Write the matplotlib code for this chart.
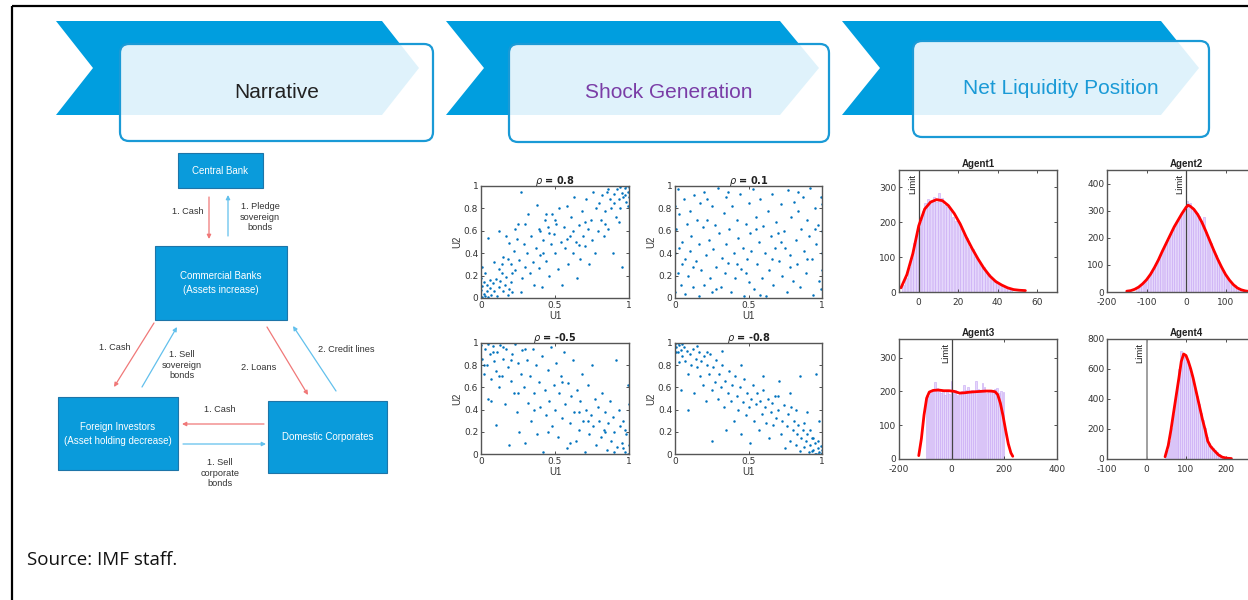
import numpy as np
import matplotlib
matplotlib.use("Agg")
import matplotlib.pyplot as plt
from matplotlib.patches import Polygon, Rectangle, FancyBboxPatch

plt.rcParams["axes.unicode_minus"] = False

# ---- data ----
stage_titles = ["Narrative", "Shock Generation", "Net Liquidity Position"]
stage_colors = ["#222222", "#7a3da6", "#1a9ad6"]

rho_titles = ["0.8", "0.1", "-0.5", "-0.8"]

s08 = [(0.01,0.01),(0.02,0.04),(0.00,0.07),(0.03,0.02),(0.01,0.11),(0.04,0.06),(0.05,0.01),(0.02,0.14),
       (0.06,0.09),(0.07,0.03),(0.00,0.18),(0.03,0.22),(0.01,0.28),(0.08,0.13),(0.09,0.06),(0.10,0.17),
       (0.11,0.02),(0.12,0.10),(0.13,0.15),(0.14,0.22),(0.15,0.06),(0.16,0.12),(0.17,0.19),(0.18,0.03),
       (0.19,0.08),(0.20,0.14),(0.21,0.05),(0.06,0.16),(0.04,0.12),(0.12,0.26),
       (0.05,0.54),(0.12,0.60),(0.15,0.37),(0.17,0.55),(0.19,0.49),(0.20,0.30),(0.22,0.42),(0.23,0.25),
       (0.24,0.53),(0.25,0.66),(0.26,0.34),(0.27,0.95),(0.28,0.18),(0.29,0.48),(0.30,0.28),(0.31,0.40),
       (0.32,0.75),(0.33,0.22),(0.34,0.55),(0.35,0.32),(0.36,0.12),(0.14,0.30),(0.21,0.22),(0.18,0.35),
       (0.27,0.05),(0.09,0.32),(0.23,0.62),(0.30,0.66),
       (0.37,0.45),(0.38,0.83),(0.39,0.27),(0.40,0.38),(0.40,0.60),(0.41,0.10),(0.42,0.52),(0.43,0.70),
       (0.44,0.33),(0.45,0.63),(0.46,0.20),(0.47,0.48),(0.48,0.75),(0.49,0.57),(0.50,0.40),(0.51,0.66),
       (0.52,0.26),(0.53,0.80),(0.54,0.50),(0.55,0.12),(0.42,0.40),(0.46,0.58),(0.50,0.70),(0.39,0.62),
       (0.44,0.75),
       (0.56,0.63),(0.57,0.45),(0.58,0.82),(0.59,0.30),(0.60,0.55),(0.61,0.72),(0.62,0.40),(0.63,0.90),
       (0.64,0.50),(0.65,0.18),(0.66,0.65),(0.67,0.35),(0.68,0.78),(0.69,0.55),(0.70,0.46),(0.71,0.88),
       (0.72,0.62),(0.73,0.30),(0.74,0.70),(0.75,0.52),(0.76,0.95),(0.77,0.40),(0.78,0.80),(0.79,0.60),
       (0.62,0.60),(0.70,0.68),(0.66,0.47),(0.58,0.53),
       (0.80,0.85),(0.81,0.70),(0.82,0.92),(0.83,0.55),(0.84,0.78),(0.85,0.95),(0.86,0.62),(0.87,0.88),
       (0.88,0.80),(0.89,0.40),(0.90,0.93),(0.91,0.72),(0.92,0.97),(0.93,0.88),(0.94,0.80),(0.95,0.28),
       (0.95,0.94),(0.96,0.90),(0.97,0.98),(0.98,0.86),(0.99,0.95),(1.00,0.99),(0.99,0.82),(0.97,0.92),
       (0.94,0.99),(0.90,0.85),(0.86,0.97),(0.93,0.68),(1.00,0.90),(0.98,1.00),(0.84,0.66)]

s01 = [(0.00,0.82),(0.00,0.40),(0.00,0.05),(0.01,0.62),(0.02,0.97),(0.02,0.22),(0.03,0.75),(0.04,0.12),
       (0.05,0.50),(0.05,0.30),(0.06,0.88),(0.07,0.04),(0.08,0.66),(0.09,0.20),(0.10,0.42),(0.10,0.78),
       (0.11,0.55),(0.12,0.10),(0.13,0.92),(0.14,0.33),(0.15,0.70),(0.16,0.02),(0.16,0.48),(0.17,0.85),
       (0.18,0.25),(0.19,0.63),(0.20,0.12),(0.20,0.95),(0.21,0.38),(0.22,0.70),(0.23,0.52),(0.24,0.18),
       (0.25,0.82),(0.25,0.05),(0.26,0.44),(0.27,0.65),(0.28,0.28),(0.29,0.98),(0.30,0.58),(0.31,0.10),
       (0.32,0.36),(0.33,0.76),(0.34,0.22),(0.35,0.48),(0.35,0.90),(0.36,0.31),(0.37,0.62),(0.38,0.05),
       (0.39,0.82),(0.40,0.40),(0.41,0.18),(0.42,0.70),(0.43,0.54),(0.44,0.93),(0.45,0.26),(0.46,0.45),
       (0.47,0.02),(0.48,0.66),(0.49,0.35),(0.50,0.85),(0.50,0.14),(0.51,0.58),(0.52,0.42),(0.53,0.97),
       (0.54,0.08),(0.55,0.72),(0.56,0.30),(0.57,0.50),(0.58,0.88),(0.59,0.18),(0.60,0.64),(0.61,0.40),
       (0.62,0.02),(0.63,0.78),(0.64,0.25),(0.65,0.55),(0.66,0.93),(0.67,0.12),(0.68,0.45),(0.69,0.68),
       (0.70,0.58),(0.71,0.33),(0.72,0.84),(0.73,0.20),(0.74,0.60),(0.75,0.45),(0.76,0.05),(0.77,0.96),
       (0.78,0.38),(0.79,0.72),(0.80,0.15),(0.81,0.86),(0.82,0.52),(0.83,0.30),(0.84,0.78),(0.85,0.10),
       (0.86,0.62),(0.87,0.90),(0.88,0.42),(0.89,0.22),(0.90,0.70),(0.91,0.55),(0.92,0.98),(0.93,0.35),
       (0.94,0.03),(0.95,0.80),(0.96,0.48),(0.97,0.65),(0.98,0.15),(0.99,0.90),(1.00,0.40),(1.00,0.84),
       (1.00,0.25),(1.00,0.60),(0.99,0.08),(0.07,0.35),(0.12,0.28),(0.22,0.88),(0.28,0.08),(0.36,0.95),
       (0.42,0.30),(0.48,0.22),(0.55,0.62),(0.58,0.03),(0.66,0.35),(0.72,0.50),(0.78,0.28),(0.84,0.95),
       (0.90,0.35),(0.95,0.62),(0.03,0.45)]

sm05 = [(0.00,0.98),(0.01,0.86),(0.02,0.72),(0.03,0.95),(0.04,0.80),(0.05,0.99),(0.05,0.50),(0.06,0.90),
        (0.07,0.68),(0.08,0.97),(0.09,0.84),(0.10,0.26),(0.10,0.75),(0.11,0.92),(0.12,0.60),(0.13,0.98),
        (0.14,0.70),(0.15,0.86),(0.16,0.45),(0.17,0.95),(0.18,0.78),(0.19,0.08),(0.20,0.66),(0.21,0.90),
        (0.22,0.55),(0.23,0.99),(0.24,0.38),(0.25,0.82),(0.26,0.20),(0.27,0.72),(0.28,0.94),(0.29,0.60),
        (0.30,0.10),(0.31,0.85),(0.32,0.46),(0.33,0.70),(0.34,0.30),(0.35,0.95),(0.36,0.55),(0.37,0.80),
        (0.38,0.18),(0.39,0.65),(0.40,0.42),(0.41,0.88),(0.42,0.02),(0.43,0.58),(0.44,0.35),(0.45,0.76),
        (0.46,0.48),(0.47,0.96),(0.48,0.25),(0.49,0.62),(0.50,0.40),(0.51,0.82),(0.52,0.15),(0.53,0.55),
        (0.54,0.70),(0.55,0.32),(0.56,0.92),(0.57,0.45),(0.58,0.05),(0.59,0.64),(0.60,0.28),(0.61,0.52),
        (0.62,0.85),(0.63,0.38),(0.64,0.12),(0.65,0.58),(0.66,0.22),(0.67,0.48),(0.68,0.72),(0.69,0.30),
        (0.70,0.02),(0.71,0.40),(0.72,0.62),(0.73,0.18),(0.74,0.35),(0.75,0.80),(0.76,0.25),(0.77,0.50),
        (0.78,0.08),(0.79,0.42),(0.80,0.30),(0.81,0.15),(0.82,0.55),(0.83,0.22),(0.84,0.38),(0.85,0.04),
        (0.86,0.28),(0.87,0.48),(0.88,0.12),(0.89,0.33),(0.90,0.20),(0.91,0.85),(0.92,0.06),(0.93,0.40),
        (0.94,0.25),(0.95,0.10),(0.96,0.30),(0.97,0.02),(0.98,0.18),(0.99,0.62),(1.00,0.08),(1.00,0.45),
        (0.99,0.00),(0.97,0.22),(0.96,0.05),(0.02,0.80),(0.08,0.92),(0.15,0.96),(0.12,0.70),(0.20,0.85),
        (0.30,0.95),(0.25,0.55),(0.45,0.20),(0.60,0.10),(0.72,0.30),(0.84,0.20),(0.90,0.02),(0.07,0.48),
        (0.55,0.65),(0.36,0.40),(0.66,0.38)]

sm08 = [(0.00,0.99),(0.01,0.96),(0.02,1.00),(0.02,0.92),(0.03,0.98),(0.04,0.94),(0.05,0.88),(0.05,0.99),
        (0.06,0.96),(0.07,0.84),(0.08,0.93),(0.09,0.72),(0.10,0.90),(0.11,0.80),(0.12,0.95),(0.13,0.55),
        (0.14,0.86),(0.15,0.78),(0.16,0.92),(0.17,0.70),(0.18,0.84),(0.19,0.62),(0.20,0.88),(0.21,0.48),
        (0.22,0.80),(0.23,0.72),(0.24,0.90),(0.25,0.12),(0.25,0.58),(0.26,0.78),(0.27,0.65),(0.28,0.85),
        (0.29,0.50),(0.30,0.72),(0.31,0.60),(0.32,0.80),(0.33,0.42),(0.34,0.66),(0.35,0.22),(0.36,0.55),
        (0.37,0.75),(0.38,0.48),(0.39,0.62),(0.40,0.30),(0.41,0.70),(0.42,0.52),(0.43,0.40),(0.44,0.60),
        (0.45,0.18),(0.46,0.47),(0.47,0.68),(0.48,0.35),(0.49,0.55),(0.50,0.42),(0.51,0.10),(0.52,0.50),
        (0.53,0.62),(0.54,0.30),(0.55,0.45),(0.56,0.55),(0.57,0.22),(0.58,0.48),(0.59,0.36),(0.60,0.58),
        (0.61,0.42),(0.62,0.28),(0.63,0.50),(0.64,0.14),(0.65,0.38),(0.66,0.46),(0.67,0.26),(0.68,0.52),
        (0.69,0.32),(0.70,0.40),(0.71,0.66),(0.72,0.18),(0.73,0.30),(0.74,0.44),(0.75,0.05),(0.76,0.25),
        (0.77,0.36),(0.78,0.12),(0.79,0.42),(0.80,0.22),(0.81,0.30),(0.82,0.08),(0.83,0.18),(0.84,0.26),
        (0.85,0.03),(0.86,0.14),(0.87,0.22),(0.88,0.06),(0.89,0.12),(0.90,0.18),(0.91,0.02),(0.92,0.08),
        (0.93,0.14),(0.94,0.04),(0.95,0.10),(0.96,0.00),(0.97,0.05),(0.98,0.02),(0.99,0.07),(1.00,0.01),
        (1.00,0.04),(0.99,0.00),(0.97,0.12),(0.95,0.00),(0.93,0.03),(0.98,0.30),(0.90,0.38),(0.96,0.72),
        (0.85,0.70),(0.78,0.55),(0.03,0.83),(0.04,0.58),(0.09,0.40),(0.01,0.92),(0.15,0.97),(0.22,0.92),
        (0.32,0.93),(0.45,0.80),(0.60,0.70),(0.70,0.52),(0.82,0.40),(0.88,0.28),(0.92,0.22),(0.94,0.14),
        (0.97,0.00)]

agent_names = ["Agent1", "Agent2", "Agent3", "Agent4"]

# histogram bins: first bin centre, bin width, counts
a1_start, a1_width = -7.8, 1.4
a1_counts = [20, 40, 72, 98, 140, 170, 200, 232, 255, 268, 262, 272, 258, 285, 270, 250, 245, 240, 215, 205,
             200, 180, 165, 155, 130, 122, 100, 96, 78, 72, 58, 52, 40, 35, 30, 20, 18, 12, 10, 6]
a1_kx = [-9, -6, -3, 0, 3, 6, 9, 12, 15, 18, 21, 24, 27, 30, 33, 36, 39, 42, 45, 48, 51, 54]
a1_ky = [12, 50, 110, 190, 238, 258, 265, 262, 248, 225, 195, 158, 125, 95, 68, 46, 30, 20, 12, 7, 5, 4]

a2_start, a2_width = -123, 6
a2_counts = [14, 20, 28, 38, 46, 60, 72, 88, 105, 122, 140, 160, 178, 192, 215, 232, 248, 262, 280, 290,
             300, 336, 330, 312, 300, 290, 280, 262, 275, 222, 200, 180, 160, 138, 118, 100, 82, 66, 55, 42,
             32, 24, 17, 12, 8, 5, 3]
a2_kx = [-150, -140, -130, -120, -110, -100, -90, -80, -70, -60, -50, -40, -30, -20, -10, 0, 5, 10, 20, 30,
         40, 50, 60, 70, 80, 90, 100, 110, 120, 130, 140, 150, 160]
a2_ky = [3, 5, 10, 18, 30, 45, 65, 90, 118, 150, 180, 210, 240, 265, 290, 312, 320, 317, 305, 285,
         258, 225, 190, 155, 122, 92, 65, 44, 27, 15, 8, 4, 2]

a3_start, a3_width = -96, 7.9
a3_counts = [190, 187, 195, 205, 228, 210, 200, 196, 205, 190, 200, 193, 230, 198, 205, 190, 196, 200, 218,
             205, 212, 195, 204, 198, 232, 206, 200, 225, 212, 196, 205, 198, 200, 207, 210, 196, 201, 197]
a3_kx = [-125, -115, -105, -95, -85, -70, -50, -30, -10, 10, 30, 50, 70, 90, 110, 130, 150, 165, 175, 185,
         195, 205, 215, 225, 232]
a3_ky = [10, 60, 130, 180, 198, 203, 204, 202, 202, 200, 195, 196, 198, 199, 200, 201, 201, 199, 190, 165,
         128, 85, 45, 18, 8]

a4_start, a4_width = 48, 5
a4_counts = [20, 60, 120, 210, 300, 400, 500, 600, 720, 700, 680, 650, 610, 570, 530, 470, 420, 370, 310,
             260, 210, 150, 110, 90, 75, 60, 45, 32, 22, 15, 10, 6, 4]
a4_kx = [47, 55, 62, 68, 75, 82, 88, 94, 100, 106, 112, 118, 124, 130, 136, 142, 148, 155, 162, 172, 182,
         192, 205, 215]
a4_ky = [15, 90, 195, 300, 420, 540, 650, 700, 690, 650, 600, 540, 470, 400, 330, 260, 200, 120, 85, 55,
         28, 12, 5, 3]

# ---- figure ----
W, H = 1248, 600
fig = plt.figure(figsize=(W / 100, H / 100), dpi=100)
bg = fig.add_axes([0, 0, 1, 1])
bg.set_xlim(0, W)
bg.set_ylim(H, 0)
bg.axis("off")

arial = ["Liberation Sans", "DejaVu Sans"]


def px_axes(left, top, w, h):
    return fig.add_axes([left / W, 1 - (top + h) / H, w / W, h / H])


# frame lines
bg.plot([12, 12], [6, 600], color="black", lw=1.6, solid_capstyle="butt")
bg.plot([12, 1248], [6, 6], color="black", lw=1.6, solid_capstyle="butt")

# stage banners: chevron (left, notch, right, tip) and box (left, right, top, bottom)
chevrons = [(56, 93, 382, 419), (446, 484, 780, 819), (842, 880, 1161, 1199)]
boxes = [(120, 433, 44, 141), (509, 829, 44, 142), (913, 1209, 41, 137)]
text_y = [92, 92, 88]
for (l, n, r, t), (bl, br, bt, bb), title, col, ty in zip(chevrons, boxes, stage_titles, stage_colors, text_y):
    bg.add_patch(Polygon([(l, 21), (r, 21), (t, 68), (r, 115), (l, 115), (n, 68)],
                         closed=True, facecolor="#009edf", edgecolor="none"))
    bg.add_patch(FancyBboxPatch((bl, bt), br - bl, bb - bt, boxstyle="round,pad=0,rounding_size=9",
                                facecolor=(1, 1, 1, 0.88), edgecolor="#1a9ad6", lw=1.6))
    bg.text((bl + br) / 2, ty, title, ha="center", va="center", fontsize=15,
            color=col, family=arial)

# flow diagram boxes
diagram_boxes = [
    (178, 263, 153, 188, "Central Bank"),
    (155, 287, 246, 320, "Commercial Banks\n(Assets increase)"),
    (58, 178, 397, 470, "Foreign Investors\n(Asset holding decrease)"),
    (268, 387, 401, 473, "Domestic Corporates"),
]
for l, r, t, b, label in diagram_boxes:
    bg.add_patch(Rectangle((l, t), r - l, b - t, facecolor="#0a9bdb", edgecolor="#1d75a8", lw=0.8))
    bg.text((l + r) / 2, (t + b) / 2, label, ha="center", va="center", fontsize=7,
            color="white", family=arial, linespacing=1.5)

red_arrow = "#f07878"
blue_arrow = "#62c0ec"
flows = [
    ((209, 197), (209, 239), red_arrow),
    ((228, 236), (228, 195), blue_arrow),
    ((154, 323), (114, 387), red_arrow),
    ((142, 387), (177, 327), blue_arrow),
    ((267, 327), (308, 395), red_arrow),
    ((336, 391), (293, 326), blue_arrow),
    ((264, 424), (182, 424), red_arrow),
    ((183, 444), (266, 444), blue_arrow),
]
for start, end, col in flows:
    bg.annotate("", xy=end, xytext=start,
                arrowprops=dict(arrowstyle="-|>", color=col, lw=0.9, mutation_scale=6,
                                shrinkA=0, shrinkB=0))

flow_labels = [
    (188, 212, "1. Cash"),
    (260, 217, "1. Pledge\nsovereign\nbonds"),
    (115, 347, "1. Cash"),
    (182, 365, "1. Sell\nsovereign\nbonds"),
    (259, 367, "2. Loans"),
    (346, 350, "2. Credit lines"),
    (220, 410, "1. Cash"),
    (220, 473, "1. Sell\ncorporate\nbonds"),
]
for x, y, label in flow_labels:
    bg.text(x, y, label, ha="center", va="center", fontsize=6.6, color="#333333",
            family=arial, linespacing=1.25)

# copula scatter panels
scatter_rects = [(481, 186, 148, 112), (675, 186, 147, 112), (481, 343, 148, 111), (675, 343, 147, 111)]
for rect, pts, rho in zip(scatter_rects, [s08, s01, sm05, sm08], rho_titles):
    ax = px_axes(*rect)
    u = np.array(pts)
    ax.scatter(u[:, 0], u[:, 1], s=3.2, color="#0072bd", linewidths=0)
    ax.set_xlim(0, 1)
    ax.set_ylim(0, 1)
    ax.set_xticks([0, 0.5, 1])
    ax.set_xticklabels(["0", "0.5", "1"])
    ax.set_yticks([0, 0.2, 0.4, 0.6, 0.8, 1])
    ax.set_yticklabels(["0", "0.2", "0.4", "0.6", "0.8", "1"])
    ax.tick_params(direction="in", length=2.5, width=0.6, labelsize=6.5, colors="#333333",
                   top=True, right=True, pad=2)
    for sp in ax.spines.values():
        sp.set_color("#555555")
        sp.set_linewidth(1.0)
    ax.set_xlabel("U1", fontsize=7, color="#333333", labelpad=1, family=arial)
    ax.set_ylabel("U2", fontsize=7, color="#333333", labelpad=1, family=arial)
    ax.set_title(r"$\rho$ = " + rho, fontsize=7, fontweight="bold", pad=1.5, color="#222222")

# net liquidity histograms
hist_rects = [(899, 170, 158, 122), (1107, 170, 158, 122), (899, 339, 158, 120), (1107, 339, 158, 120)]
hist_data = [
    (a1_start, a1_width, a1_counts, a1_kx, a1_ky, (-10, 70), [0, 20, 40, 60], (0, 350), [0, 100, 200, 300]),
    (a2_start, a2_width, a2_counts, a2_kx, a2_ky, (-200, 200), [-200, -100, 0, 100, 200], (0, 450),
     [0, 100, 200, 300, 400]),
    (a3_start, a3_width, a3_counts, a3_kx, a3_ky, (-200, 400), [-200, 0, 200, 400], (0, 355),
     [0, 100, 200, 300]),
    (a4_start, a4_width, a4_counts, a4_kx, a4_ky, (-100, 300), [-100, 0, 100, 200, 300], (0, 800),
     [0, 200, 400, 600, 800]),
]
for i, (rect, name, hd) in enumerate(zip(hist_rects, agent_names, hist_data)):
    start, width, counts, kx, ky, xl, xt, yl, yt = hd
    ax = px_axes(*rect)
    centres = start + width * np.arange(len(counts))
    ax.bar(centres, counts, width=width * 0.8, color="#e4d6fb", edgecolor="#c7a6f4", linewidth=0.4)
    lim_col = "#999999" if i == 3 else "#444444"
    ax.axvline(0, color=lim_col, lw=1.3 if i == 3 else 0.9)
    ax.plot(kx, ky, color="#ff0000", lw=2.0, solid_capstyle="round")
    ax.text(-0.012 * (xl[1] - xl[0]), yl[1] * 0.97, "Limit", rotation=90, ha="right", va="top",
            fontsize=6.8, color="#222222", family=arial)
    ax.set_xlim(*xl)
    ax.set_ylim(*yl)
    ax.set_xticks(xt)
    ax.set_yticks(yt)
    ax.tick_params(direction="in", length=2.5, width=0.6, labelsize=6.5, colors="#333333",
                   top=True, right=True, pad=2)
    ax.tick_params(axis="x", pad=4)
    for sp in ax.spines.values():
        sp.set_color("#555555")
        sp.set_linewidth(1.0)
    ax.set_title(name, fontsize=7, fontweight="bold", pad=2, color="#222222", family=arial)

fig.text(27 / W, 1 - 560 / H, "Source: IMF staff.", ha="left", va="center", fontsize=13.5,
         color="#111111", family=["Open Sans", "DejaVu Sans"])

fig.savefig("out.png", dpi=100)
